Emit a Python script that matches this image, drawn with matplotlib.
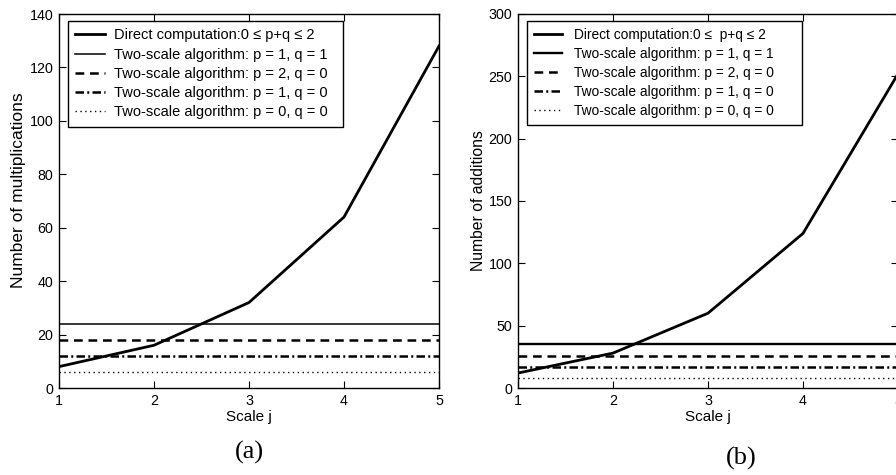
import matplotlib
matplotlib.use("Agg")
import matplotlib.pyplot as plt

plt.rcParams['font.family'] = ['Liberation Sans', 'DejaVu Sans']

# Daten
scale_j = [1, 2, 3, 4, 5]

mult_direct = [8, 16, 32, 64, 128]
mult_p1q1 = 24
mult_p2q0 = 18
mult_p1q0 = 12
mult_p0q0 = 6

add_direct = [12, 28, 60, 124, 252]
add_p1q1 = 35
add_p2q0 = 26
add_p1q0 = 17
add_p0q0 = 8

labels = ['Direct computation:0 \u2264 p+q \u2264 2',
          'Two-scale algorithm: p = 1, q = 1',
          'Two-scale algorithm: p = 2, q = 0',
          'Two-scale algorithm: p = 1, q = 0',
          'Two-scale algorithm: p = 0, q = 0']
labels_b = list(labels)
labels_b[0] = 'Direct computation:0 \u2264  p+q \u2264 2'

fig = plt.figure(figsize=(8.96, 4.75), dpi=100)
ax_a = fig.add_axes([59 / 896, 1 - 388 / 475, 380 / 896, 374 / 475])
ax_b = fig.add_axes([518 / 896, 1 - 388 / 475, 380 / 896, 374 / 475])


def panel(ax, direct, h, ymax, ystep, ylabel, ylab_size, ylab_x, ylab_y,
          lab, thin, leg_size, textpad):
    ax.plot(scale_j, direct, color='black', lw=2.0, label=lab[0])
    ax.plot(scale_j, [h[0]] * len(scale_j), color='black', lw=thin, label=lab[1])
    ax.plot(scale_j, [h[1]] * len(scale_j), color='black', lw=1.8,
            ls=(0, (3.5, 2.3)), label=lab[2])
    ax.plot(scale_j, [h[2]] * len(scale_j), color='black', lw=1.8,
            ls=(0, (3.4, 1.3, 0.8, 1.3)), label=lab[3])
    ax.plot(scale_j, [h[3]] * len(scale_j), color='black', lw=1.0,
            ls=(0, (1, 2.5)), label=lab[4])
    ax.set_xlim(1, 5)
    ax.set_ylim(0, ymax)
    ax.set_xticks(scale_j)
    ax.set_yticks(range(0, ymax + 1, ystep))
    ax.tick_params(direction='in', top=True, right=True, length=5,
                   width=0.8, labelsize=10.3, pad=4)
    for s in ax.spines.values():
        s.set_linewidth(1.0)
    ax.set_xlabel('Scale j', fontsize=11, labelpad=2)
    ax.set_ylabel(ylabel, fontsize=ylab_size)
    ax.yaxis.set_label_coords(ylab_x, ylab_y)
    leg = ax.legend(loc='upper left', mode='expand',
                    bbox_to_anchor=(0.0237, 0.5, 0.724, 0.481),
                    fontsize=leg_size, frameon=True, fancybox=False,
                    edgecolor='black', framealpha=1, borderaxespad=0,
                    handlelength=2.05, handletextpad=textpad, labelspacing=0.36,
                    borderpad=0.5)
    leg.get_frame().set_linewidth(1.0)


panel(ax_a, mult_direct, [mult_p1q1, mult_p2q0, mult_p1q0, mult_p0q0],
      140, 20, 'Number of multiplications', 12.5, (26 - 59) / 380, 0.53,
      labels, 1.1, 10.5, 0.6)
panel(ax_b, add_direct, [add_p1q1, add_p2q0, add_p1q0, add_p0q0],
      300, 50, 'Number of additions', 11.3, (486 - 518) / 380, 0.5,
      labels_b, 1.7, 9.9, 0.85)

fig.text(249 / 896, 1 - 452 / 475, '(a)', family='Liberation Serif',
         fontsize=19, ha='center', va='center')
fig.text(741 / 896, 1 - 458 / 475, '(b)', family='Liberation Serif',
         fontsize=19, ha='center', va='center')

fig.savefig('out.png', dpi=100)
